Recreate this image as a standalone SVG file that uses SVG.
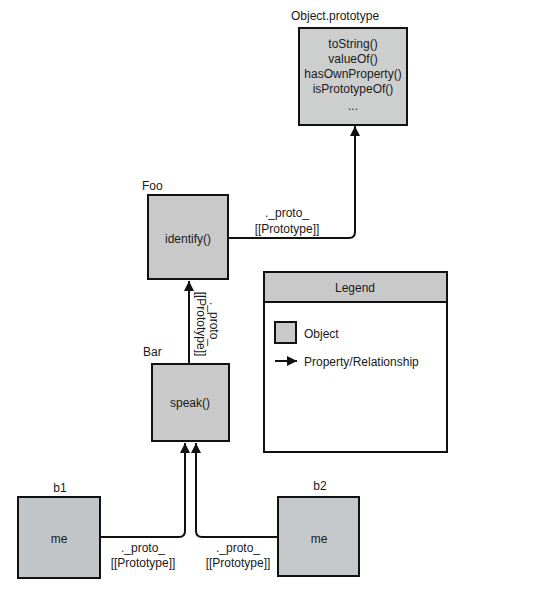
<svg xmlns="http://www.w3.org/2000/svg" width="554" height="589" viewBox="0 0 554 589">
<defs>
<marker id="ah" viewBox="0 0 10 10" refX="10" refY="5" markerWidth="10" markerHeight="10" markerUnits="userSpaceOnUse" orient="auto">
<path d="M0,0 L10,5 L0,10 z" fill="#111"/>
</marker>
<style>
text{font-family:"Liberation Sans",Arial,sans-serif;font-size:12px;fill:#1a1a1a}
.c{text-anchor:middle}
.box{fill:#c9c9c9;stroke:#111;stroke-width:2}
.conn{fill:none;stroke:#111;stroke-width:2}
</style>
</defs>
<rect width="554" height="589" fill="#fff"/>
<g id="connectors">
<path class="conn" d="M229,238 H349 Q355,238 355,232 V126" marker-end="url(#ah)"/>
<path class="conn" d="M189,364 V281" marker-end="url(#ah)"/>
<path class="conn" d="M100,537 H179 Q185,537 185,531 V443" marker-end="url(#ah)"/>
<path class="conn" d="M278,537 H202 Q196,537 196,531 V443" marker-end="url(#ah)"/>
<text class="c" x="287" y="217">._proto_</text>
<text class="c" x="287" y="233">[[Prototype]]</text>
<text class="c" transform="translate(210,324) rotate(90)">._proto_</text>
<text class="c" transform="translate(197,324) rotate(90)">[[Prototype]]</text>
<text class="c" x="143" y="552">._proto_</text>
<text class="c" x="143" y="567">[[Prototype]]</text>
<text class="c" x="238" y="552">._proto_</text>
<text class="c" x="238" y="567">[[Prototype]]</text>
</g>
<g id="object-prototype">
<text x="291" y="20">Object.prototype</text>
<rect class="box" x="299" y="28" width="108" height="97" style="fill:#cdcfcf"/>
<text class="c" x="353" y="48">toString()</text>
<text class="c" x="353" y="63">valueOf()</text>
<text class="c" x="353" y="78">hasOwnProperty()</text>
<text class="c" x="353" y="93">isPrototypeOf()</text>
<text class="c" x="353" y="110">...</text>
</g>
<g id="foo">
<text x="142" y="190">Foo</text>
<rect class="box" x="148" y="195" width="80" height="84"/>
<text class="c" x="188" y="243">identify()</text>
</g>
<g id="bar">
<text x="143" y="356">Bar</text>
<rect class="box" x="152" y="364" width="77" height="77"/>
<text class="c" x="190" y="407">speak()</text>
</g>
<g id="b1">
<text class="c" x="60" y="492">b1</text>
<rect class="box" x="18" y="497" width="82" height="81" style="fill:#c3c6c9"/>
<text class="c" x="59" y="543">me</text>
</g>
<g id="b2">
<text class="c" x="320" y="490">b2</text>
<rect class="box" x="278" y="497" width="81" height="79" style="fill:#c5c8cb"/>
<text class="c" x="319" y="543">me</text>
</g>
<g id="legend">
<rect x="264" y="272" width="183" height="180" fill="#fff" stroke="#111" stroke-width="2"/>
<rect x="264" y="272" width="183" height="30" fill="#c9c9c9" stroke="#111" stroke-width="2"/>
<text class="c" x="355" y="292">Legend</text>
<rect x="275" y="322" width="21" height="21" fill="#c9c9c9" stroke="#111" stroke-width="2"/>
<text x="304" y="338">Object</text>
<path class="conn" d="M275,361 H297" marker-end="url(#ah)"/>
<text x="304" y="366">Property/Relationship</text>
</g>
</svg>
